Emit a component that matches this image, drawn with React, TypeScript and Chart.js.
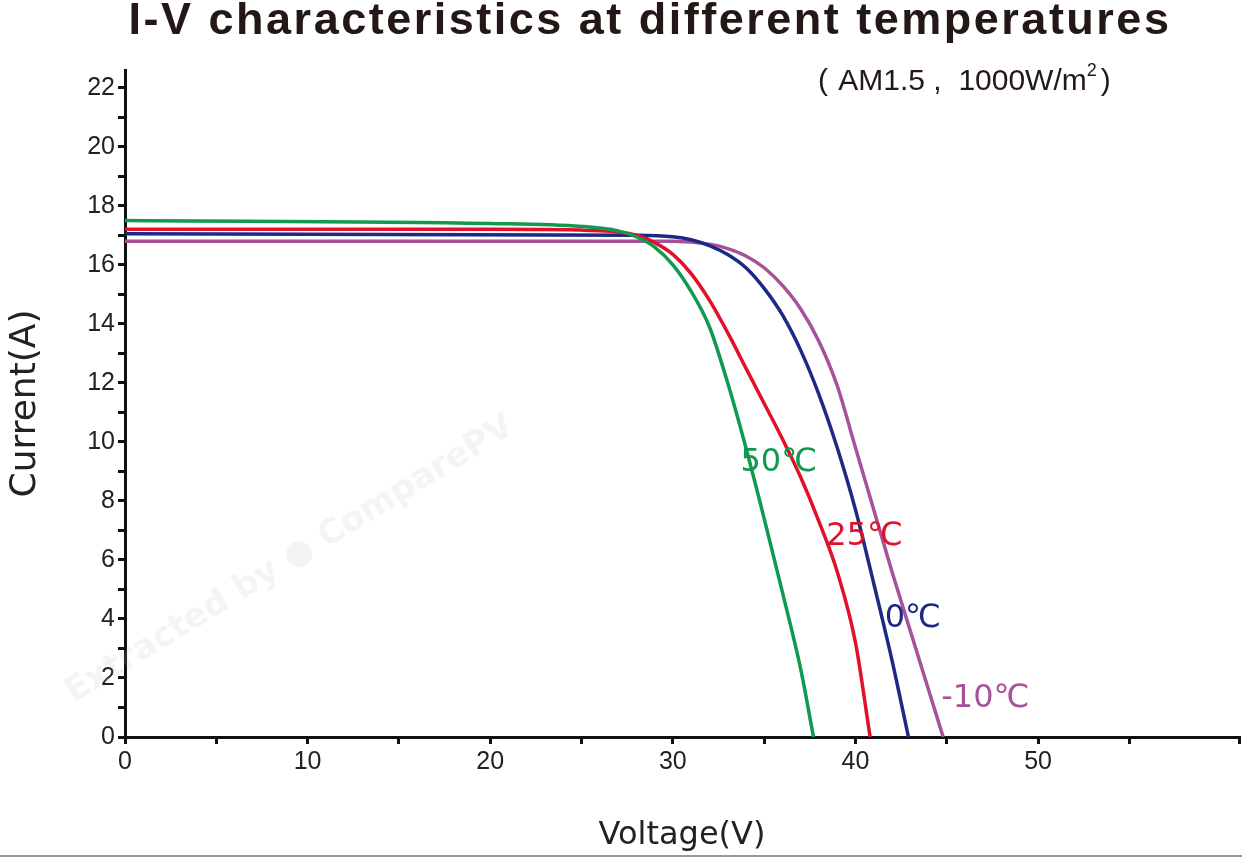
import React, { useEffect, useRef } from "react";
import { Chart, registerables } from "chart.js";
Chart.register(...registerables);

const v50 = [0, 20, 25, 27, 28, 29, 30, 31, 32, 33, 34, 35, 36, 37, 37.7];
const i50 = [17.5, 17.4, 17.3, 17.15, 16.95, 16.6, 16.0, 15.1, 13.9, 12.0, 9.8, 7.4, 4.9, 2.3, 0];
const v25 = [0, 20, 26, 28, 29, 30, 31, 32, 33, 34, 35, 36, 37, 38, 39, 40, 40.8];
const i25 = [17.2, 17.2, 17.15, 17.0, 16.75, 16.35, 15.7, 14.8, 13.7, 12.5, 11.3, 10.1, 8.8, 7.3, 5.6, 3.2, 0];
const v0 = [0, 28, 30, 31, 32, 33, 34, 35, 36, 37, 38, 39, 40, 41, 42, 42.9];
const i0 = [17.05, 17.0, 16.95, 16.85, 16.65, 16.35, 15.9, 15.2, 14.3, 13.1, 11.6, 9.8, 7.7, 5.2, 2.6, 0];
const vm10 = [0, 30, 32, 33, 34, 35, 36, 37, 38, 39, 40, 41, 42, 43, 44, 44.8];
const im10 = [16.8, 16.8, 16.7, 16.55, 16.3, 15.9, 15.3, 14.5, 13.4, 11.9, 9.8, 7.7, 5.6, 3.6, 1.6, 0];
const labels = ["50℃", "25℃", "0℃", "-10℃"];
const labelPos = [[33.7, 9.3], [38.4, 6.8], [41.6, 4.0], [44.7, 1.3]];
const colors = ["#0f9a4f", "#e3102a", "#1c2a85", "#a8519b"];
const series = [[v50, i50], [v25, i25], [v0, i0], [vm10, im10]];

const textPlugin = {
  id: "texts",
  afterDraw(chart: any) {
    const ctx = chart.ctx;
    const xs = chart.scales.x, ys = chart.scales.y;
    ctx.save();
    ctx.textBaseline = "middle";
    ctx.textAlign = "center";
    ctx.fillStyle = "#231815";
    ctx.font = "bold 45px 'Liberation Sans'";
    (ctx as any).letterSpacing = "2.5px";
    ctx.fillText("I-V characteristics at different temperatures", 650, 22);
    (ctx as any).letterSpacing = "0px";
    ctx.textAlign = "left";
    ctx.font = "30px 'Liberation Sans'";
    ctx.fillText("(", 818, 82);
    const s = " AM1.5 ,  1000W/m";
    ctx.fillText(s, 830, 82);
    const w = ctx.measureText(s).width;
    ctx.font = "18px 'Liberation Sans'";
    ctx.fillText("2", 830 + w, 71);
    ctx.font = "30px 'Liberation Sans'";
    ctx.fillText(")", 830 + w + 14, 82);
    ctx.font = "32px 'DejaVu Sans'";
    labels.forEach((t, k) => {
      ctx.fillStyle = colors[k];
      ctx.fillText(t, xs.getPixelForValue(labelPos[k][0]), ys.getPixelForValue(labelPos[k][1]));
    });
    ctx.textAlign = "center";
    ctx.fillStyle = "rgba(180,180,180,0.15)";
    ctx.font = "bold 34px 'DejaVu Sans'";
    ctx.translate(290, 560);
    ctx.rotate(-0.55);
    ctx.fillText("Extracted by ● ComparePV", 0, 0);
    ctx.restore();
    ctx.save();
    ctx.strokeStyle = "#999";
    ctx.lineWidth = 2;
    ctx.beginPath();
    ctx.moveTo(0, 856);
    ctx.lineTo(1242, 856);
    ctx.stroke();
    ctx.restore();
  },
};

export default function App() {
  const ref = useRef<HTMLCanvasElement>(null);
  useEffect(() => {
    document.body.style.margin = "0";
    const chart = new Chart(ref.current!, {
      type: "line",
      data: {
        datasets: series.map((s, k) => ({
          data: s[0].map((x, j) => ({ x, y: s[1][j] })),
          borderColor: colors[k],
          borderWidth: 3.5,
          pointRadius: 0,
          cubicInterpolationMode: "monotone" as const,
        })),
      },
      options: {
        animation: false,
        responsive: false,
        layout: { padding: { top: 70, right: 2, left: 0, bottom: 0 } },
        plugins: { legend: { display: false }, tooltip: { enabled: false } },
        scales: {
          x: {
            type: "linear", min: 0, max: 61,
            afterFit: (s: any) => { s.height = 122; },
            border: { color: "#111", width: 3 },
            grid: { drawOnChartArea: false, color: "#111", lineWidth: 3, tickLength: 7 },
            ticks: { stepSize: 5, color: "#222", font: { size: 25, family: "'Liberation Sans'" },
              callback: (v: any) => (v % 10 === 0 && v < 60 ? String(v) : ""), maxRotation: 0, autoSkip: false },
            title: { display: true, text: "Voltage(V)", color: "#222", font: { size: 32, family: "'DejaVu Sans'" }, padding: { top: 4 } },
          },
          y: {
            min: 0, max: 22.6,
            afterFit: (s: any) => { s.width = 125; },
            border: { color: "#111", width: 3 },
            grid: { drawOnChartArea: false, color: "#111", lineWidth: 3, tickLength: 7 },
            afterBuildTicks: (s: any) => { s.ticks = Array.from({ length: 23 }, (_, i) => ({ value: i })); },
            ticks: { color: "#222", font: { size: 25, family: "'Liberation Sans'" },
              callback: (v: any) => (v % 2 === 0 ? String(v) : ""), autoSkip: false },
            title: { display: true, text: "Current(A)", color: "#222", font: { size: 36, family: "'DejaVu Sans'" }, padding: { bottom: 8 } },
          },
        },
      },
      plugins: [textPlugin],
    } as any);
    return () => chart.destroy();
  }, []);
  return <canvas ref={ref} width={1242} height={859} style={{ display: "block", width: 1242, height: 859 }} />;
}
